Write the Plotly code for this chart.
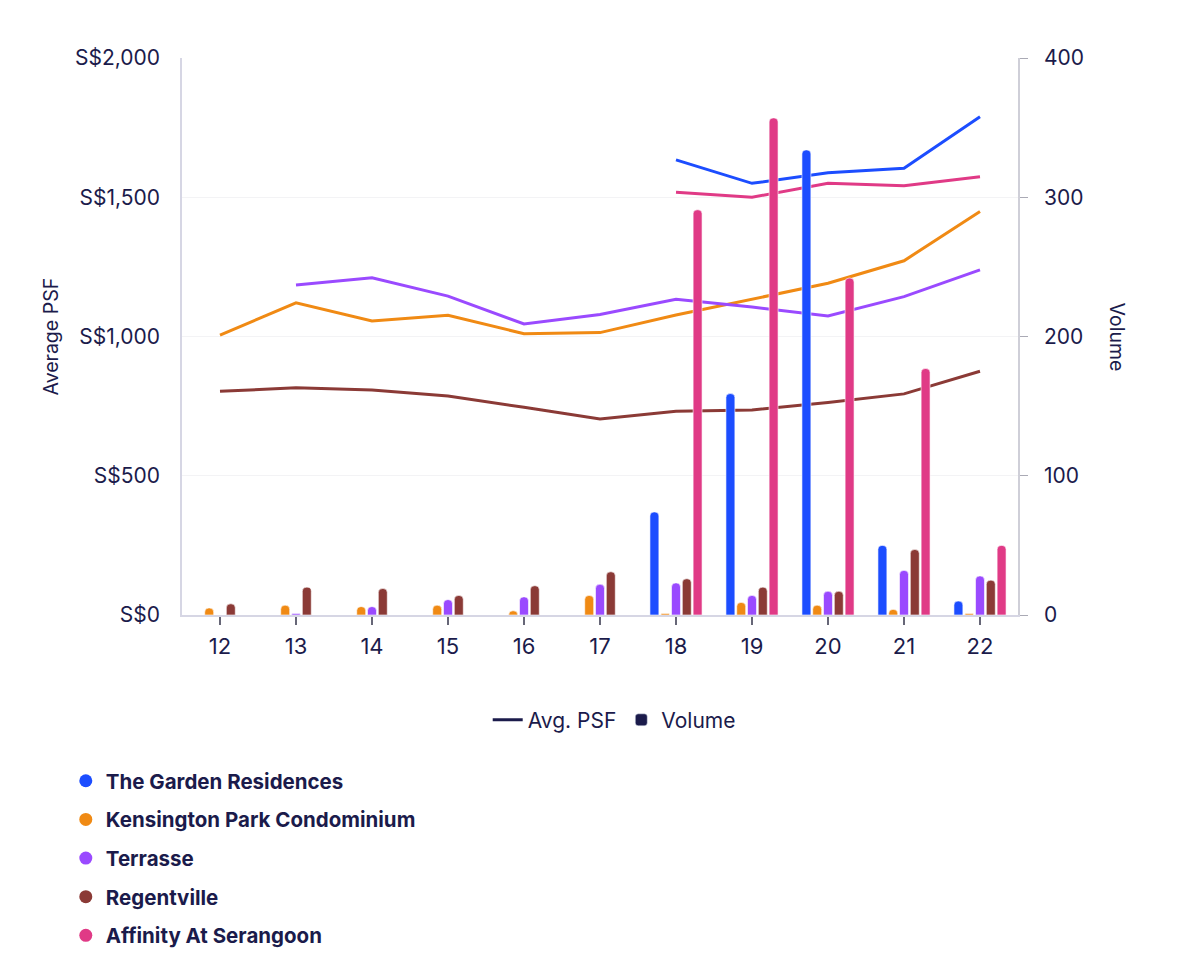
import plotly.graph_objects as go

# values
years = ["12", "13", "14", "15", "16", "17", "18", "19", "20", "21", "22"]
projects = ["The Garden Residences", "Kensington Park Condominium", "Terrasse",
            "Regentville", "Affinity At Serangoon"]
colors = ["#1c4dff", "#f08a14", "#9a4aff", "#8b3a36", "#e03a86"]

# average PSF (S$), None = no transactions that year
psf_garden = [None, None, None, None, None, None, 1634, 1550, 1588, 1604, 1789]
psf_kensington = [1005, 1121, 1056, 1076, 1010, 1014, 1077, 1133, 1191, 1272, 1449]
psf_terrasse = [None, 1185, 1211, 1145, 1045, 1079, 1134, 1106, 1074, 1143, 1239]
psf_regentville = [803, 816, 808, 786, 746, 704, 732, 736, 763, 794, 875]
psf_affinity = [None, None, None, None, None, None, 1518, 1500, 1550, 1541, 1574]

# transaction volume
vol_garden = [None, None, None, None, None, None, 74, 159, 334, 50, 10]
vol_kensington = [5, 7, 6, 7, 3, 14, 1, 9, 7, 4, 1]
vol_terrasse = [None, 1, 6, 11, 13, 22, 23, 14, 17, 32, 28]
vol_regentville = [8, 20, 19, 14, 21, 31, 26, 20, 17, 47, 25]
vol_affinity = [None, None, None, None, None, None, 291, 357, 242, 177, 50]

psf = [psf_garden, psf_kensington, psf_terrasse, psf_regentville, psf_affinity]
vol = [vol_garden, vol_kensington, vol_terrasse, vol_regentville, vol_affinity]

navy = "#1b1b4b"
font = "Inter"

# the page body adds 8px, so margins are shifted back by that much
L, R, T, B = 174, 190, 50, 368
plot_w = 1200 - L - R

fig = go.Figure()

# lines on the left axis (drawn underneath the bars)
for name, col, ys in zip(projects, colors, psf):
    fig.add_trace(go.Scatter(x=years, y=ys, mode="lines", name=name,
                             line=dict(color=col, width=3),
                             showlegend=False, yaxis="y"))

# bars on the right axis
for name, col, ys in zip(projects, colors, vol):
    fig.add_trace(go.Bar(x=years, y=ys, name=name, marker_color=col,
                         marker_line=dict(color="white", width=0.6),
                         showlegend=False, yaxis="y2"))

# legend entries for the projects
for name, col in zip(projects, colors):
    fig.add_trace(go.Scatter(x=[None], y=[None], mode="markers", name=name,
                             marker=dict(color=col, size=13, symbol="circle"),
                             legend="legend", legendgroup=name))

# legend entries for the two measures
fig.add_trace(go.Scatter(x=[None], y=[None], mode="lines", name="Avg. PSF",
                         line=dict(color=navy, width=3), legend="legend2"))
fig.add_trace(go.Bar(x=[None], y=[None], name="Volume", marker_color=navy,
                     legend="legend2", xaxis="x2", yaxis="y3"))

fig.update_layout(
    width=1200, height=975,
    margin=dict(l=L, r=R, t=T, b=B),
    paper_bgcolor="white", plot_bgcolor="white",
    font=dict(family=font, color=navy, size=18),
    barmode="group", bargap=0.29, bargroupgap=0.17,
    barcornerradius=4,
    xaxis=dict(type="category", range=[-0.5, 10.5], showgrid=False,
               showline=True, linecolor="#d6d6e4", linewidth=1.5,
               ticks="outside", ticklen=8, tickcolor="#666677", tickwidth=1.5,
               ticklabelstandoff=3,
               tickfont=dict(family=font, size=22, color=navy)),
    xaxis2=dict(overlaying="x", visible=False),
    yaxis=dict(range=[0, 2000], tickvals=[0, 500, 1000, 1500, 2000],
               ticktext=["S$0", "S$500", "S$1,000", "S$1,500", "S$2,000"],
               showgrid=True, gridcolor="#f3f3f5", zeroline=False,
               showline=True, linecolor="#d6d6e4", linewidth=1.5,
               ticks="outside", ticklen=0, ticklabelstandoff=16,
               tickfont=dict(family=font, size=21, color=navy)),
    yaxis2=dict(range=[0, 400], tickvals=[0, 100, 200, 300, 400],
                overlaying="y", side="right", showgrid=False, zeroline=False,
                showline=True, linecolor="#cfcfd8", linewidth=1.5,
                ticks="outside", ticklen=8, tickcolor="#aaaab5",
                ticklabelstandoff=12,
                tickfont=dict(family=font, size=21, color=navy)),
    yaxis3=dict(overlaying="y", visible=False),
    legend=dict(x=-0.139, xanchor="left", y=-0.262, yanchor="top",
                orientation="v", tracegroupgap=9,
                font=dict(family=font, size=20.5, color=navy, weight="bold"),
                bgcolor="rgba(0,0,0,0)"),
    legend2=dict(x=0.517, xanchor="center", y=-0.152, yanchor="top",
                 orientation="h",
                 font=dict(family=font, size=21, color=navy),
                 bgcolor="rgba(0,0,0,0)"),
    annotations=[
        dict(text="Average PSF", textangle=-90, x=(50 - 182) / plot_w,
             xref="paper", xanchor="center", y=0.5,
             yref="paper", yanchor="middle", showarrow=False,
             font=dict(family=font, size=19.5, color=navy)),
        dict(text="Volume", textangle=90, x=(1117 - 182) / plot_w,
             xref="paper", xanchor="center", y=0.5,
             yref="paper", yanchor="middle", showarrow=False,
             font=dict(family=font, size=19.5, color=navy)),
    ],
)

fig.write_html("out.html")
